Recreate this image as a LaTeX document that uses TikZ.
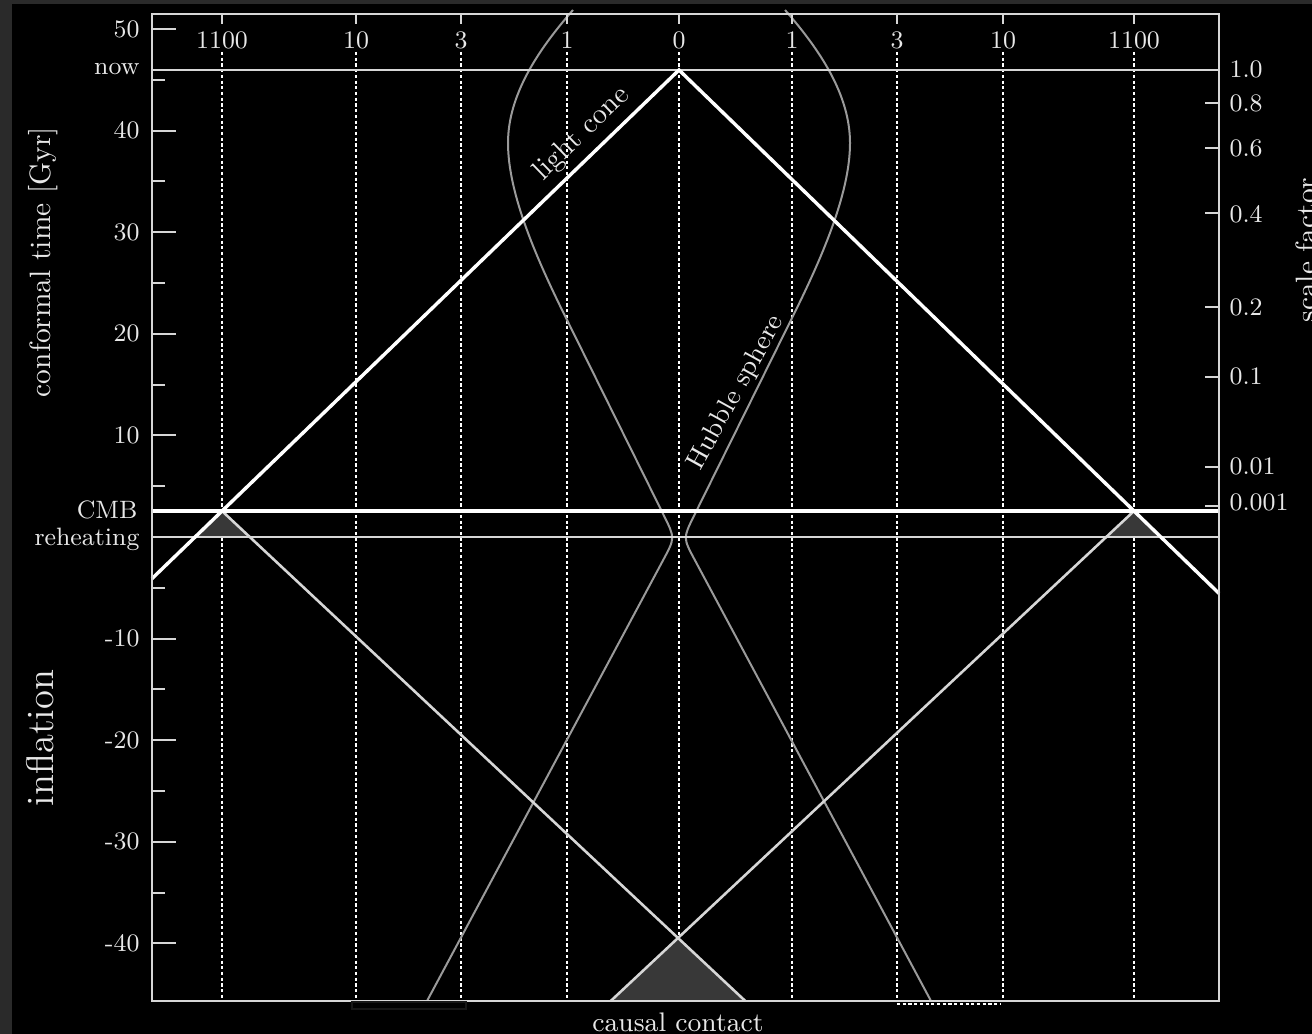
\documentclass[tikz,border=0pt]{standalone}
\definecolor{bgc}{HTML}{2A2A2A}
\definecolor{txtc}{HTML}{E8E8E8}
\definecolor{framec}{HTML}{D6D6D6}
\definecolor{hubc}{HTML}{9A9A9A}
\definecolor{shadec}{HTML}{383838}
\definecolor{pastc}{HTML}{D6D6D6}
\definecolor{artc}{HTML}{161616}
\tikzset{
  tlab/.style={text=txtc, font=\fontsize{8.8}{10}\selectfont, inner sep=0pt},
  axlab/.style={text=txtc, font=\fontsize{10.3}{12}\selectfont, inner sep=0pt},
  biglab/.style={text=txtc, font=\fontsize{13.5}{15}\selectfont, inner sep=0pt},
  curvlab/.style={text=txtc, font=\fontsize{9.4}{11}\selectfont, inner sep=0pt},
  frameline/.style={draw=framec, line width=0.75pt},
  tickline/.style={draw=framec, line width=0.7pt},
  conestyle/.style={draw=white, line width=1.2pt, line join=miter},
  pastcone/.style={draw=pastc, line width=0.9pt},
  hubline/.style={draw=hubc, line width=0.7pt},
  gridline/.style={draw=white, line width=0.65pt, dash pattern=on 1.1pt off 0.9pt},
  nowstyle/.style={draw=framec, line width=0.75pt},
  cmbstyle/.style={draw=white, line width=1.15pt},
  rhstyle/.style={draw=pastc, line width=1pt},
  shade/.style={fill=shadec},
}
\begin{document}
\begin{tikzpicture}[x=0.35pt,y=-0.35pt]
\useasboundingbox (0,0) rectangle (1312,1034);
\fill[bgc] (0,0) rectangle (1312,1034);
\fill[black] (12,4) rectangle (1312,1034);

% key points
\coordinate (now) at (679,70);
\coordinate (cmbL) at (222,511);
\coordinate (cmbR) at (1134,511);
\coordinate (apex) at (678,938);
\coordinate (lcL) at (152,578.6);
\coordinate (lcR) at (1219,593.4);
\coordinate (pcL) at (610.7,1001);
\coordinate (pcR) at (745.3,1001);
\coordinate (rhL1) at (195.1,537);
\coordinate (rhL2) at (249.8,537);
\coordinate (rhR1) at (1106.2,537);
\coordinate (rhR2) at (1160.8,537);
\coordinate (nowA) at (152,70);
\coordinate (nowB) at (1219,70);
\coordinate (cmbA) at (152,511);
\coordinate (cmbB) at (1219,511);
\coordinate (rhA) at (152,537);
\coordinate (rhB) at (1219,537);

% vertical dotted grid lines
\foreach \xx in {222,356,461,567,679,792,897,1003,1134}
  \draw[gridline] (\xx,52) -- (\xx,1001);

% shaded causal regions
\fill[shade] (cmbL) -- (rhL1) -- (rhL2) -- cycle;
\fill[shade] (cmbR) -- (rhR1) -- (rhR2) -- cycle;
\fill[shade] (apex) -- (pcL) -- (pcR) -- cycle;

% Hubble sphere
\draw[hubline] (427,1001) -- (663.2,560) .. controls (675,538) .. (664.1,516)
  -- (568,322) .. controls (538,262) and (508,195) .. (508,143)
  .. controls (508,95) and (538,50) .. (573,10);
\draw[hubline] (931,1001) -- (694.8,560) .. controls (683,538) .. (693.9,516)
  -- (790,322) .. controls (820,262) and (850,195) .. (850,143)
  .. controls (850,95) and (820,50) .. (785,10);

% past light cones
\draw[pastcone] (cmbL) -- (pcR);
\draw[pastcone] (cmbR) -- (pcL);

% horizontal lines
\draw[nowstyle] (nowA) -- (nowB);
\draw[rhstyle] (rhA) -- (rhB);
\draw[cmbstyle] (cmbA) -- (cmbB);

% light cone
\draw[conestyle] (lcL) -- (now) -- (lcR);

% frame
\draw[frameline] (152,14) rectangle (1219,1001);

% bottom extras
\draw[gridline] (897,1004) -- (1000,1004);
\draw[artc, line width=0.4pt] (352,1002) rectangle (466,1009);

% left ticks
\foreach \v in {50,40,30,20,10,-10,-20,-30,-40} {
  \draw[tickline] (152,{537-10.16*\v}) -- (176,{537-10.16*\v});
  \node[tlab, anchor=east] (yl\v) at (140,{537-10.16*\v}) {\v};
}
\foreach \v in {45,35,25,15,5,-5,-15,-25,-35}
  \draw[tickline] (152,{537-10.16*\v}) -- (165,{537-10.16*\v});

% top ticks and labels
\foreach \xx/\t/\n in {222/1100/a,356/10/b,461/3/c,567/1/d,679/0/e,792/1/f,897/3/g,1003/10/h,1134/1100/i} {
  \draw[tickline] (\xx,14) -- (\xx,24);
  \node[tlab] (xl\n) at (\xx,40) {\t};
}

% right ticks and labels
\foreach \yy in {103,148,213,307,377,467,506}
  \draw[tickline] (1205,\yy) -- (1219,\yy);
\foreach \yy/\t/\n in {69/1.0/a,103/0.8/b,148/0.6/c,214/0.4/d,307/0.2/e,376/0.1/f,466/0.01/g,502/0.001/h}
  \node[tlab, anchor=west] (rl\n) at (1229,\yy) {\t};

% event labels
\node[tlab, anchor=east] (lnow) at (140,69) {now};
\node[tlab, anchor=east] (lcmb) at (138,510) {CMB};
\node[tlab, anchor=east] (lreh) at (140,539) {reheating};

% axis labels
\node[axlab, rotate=90] (ylab) at (43,262) {conformal time [Gyr]};
\node[biglab, rotate=90] (infl) at (40,738) {inflation};
\node[axlab, rotate=90, anchor=north] (slab) at (1295,250) {scale factor};
\node[curvlab] (causal) at (678,1022) {causal contact};

% curve labels
\node[curvlab, font=\fontsize{10}{12}\selectfont, rotate=44] (lclab) at (582,134) {light cone};
\node[curvlab, rotate=61] (hublab) at (736,393) {Hubble sphere};
\end{tikzpicture}
\end{document}
